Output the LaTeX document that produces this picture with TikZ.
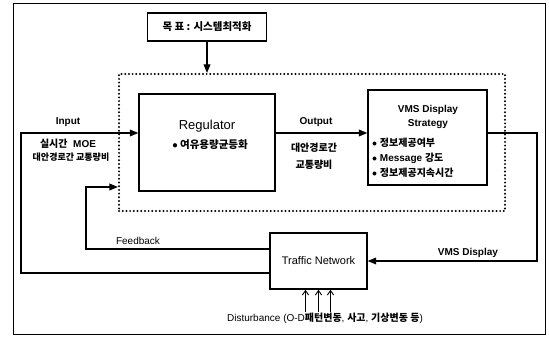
\documentclass[tikz,border=0pt]{standalone}
\usepackage{fontspec}
\setmainfont{Liberation Sans}
\newfontfamily\kr{Noto Sans CJK KR}
\usetikzlibrary{arrows.meta,positioning}
\tikzset{
  blkbox/.style={draw=black,line width=1.4pt,fill=white,inner sep=0pt},
  ctrlbox/.style={draw=black,line width=2.2pt,dash pattern=on 0pt off 3.7pt,line cap=round,inner sep=0pt},
  sigarrow/.style={-{Triangle[length=3mm,width=2.4mm]},line width=1.1pt},
  distarrow/.style={-{Straight Barb[length=1.6mm,width=2.2mm]},line width=0.9pt},
  lbl/.style={font=\fontsize{10}{12}\selectfont,inner sep=1pt,align=center}
}
\begin{document}
\begin{tikzpicture}[x=1pt,y=-1pt]
\useasboundingbox (0,0) rectangle (549,337);
\node[draw=black,line width=0.8pt,minimum width=532,minimum height=331,inner sep=0pt] (frame) at (279,168.5) {};
% boxes
\node[blkbox,minimum width=119,minimum height=28,font=\kr\bfseries\fontsize{10.5}{12}\selectfont] (goal) at (207,27) {목 표 : 시스템최적화};
\node[ctrlbox,minimum width=386,minimum height=137] (ctrl) at (312,142.5) {};
\node[blkbox,minimum width=136,minimum height=97] (reg) at (207,142.5) {};
\node[blkbox,minimum width=119,minimum height=95] (vms) at (427.5,137.5) {};
\node[blkbox,minimum width=97,minimum height=56,font=\fontsize{11}{13}\selectfont] (net) at (318.5,261) {Traffic Network};
% box texts
\node[font=\fontsize{13}{15}\selectfont] (regname) at (207,126) {Regulator};
\node[font=\kr\bfseries\fontsize{10.5}{13}\selectfont] (regitem) at (210,145) {$\bullet$\ 여유용량균등화};
\node[lbl,font=\bfseries\fontsize{10}{14}\selectfont] (vmsname) at (428,117) {VMS Display\\Strategy};
\node[lbl,anchor=west,font=\bfseries\fontsize{10}{12}\selectfont] (vms1) at (371,143) {$\bullet$\ {\kr 정보제공여부}};
\node[lbl,anchor=west,font=\bfseries\fontsize{10}{12}\selectfont] (vms2) at (371,158) {$\bullet$\ Message {\kr 강도}};
\node[lbl,anchor=west,font=\bfseries\fontsize{10}{12}\selectfont] (vms3) at (371,173) {$\bullet$\ {\kr 정보제공지속시간}};
% signal labels
\coordinate (inL) at (21,133);
\coordinate (fbL) at (86,187);
\coordinate (vR) at (537,133);
\node[lbl,font=\bfseries\fontsize{10}{12}\selectfont] (inlbl) at (68,122) {Input};
\node[lbl,font=\bfseries\fontsize{10}{12}\selectfont] (moe) at (68,144) {{\kr 실시간}\ \ MOE};
\node[lbl,font=\kr\bfseries\fontsize{9}{12}\selectfont] (ratio) at (71,157) {대안경로간 교통량비};
\node[lbl,font=\bfseries\fontsize{10}{12}\selectfont] (outlbl) at (316,122) {Output};
\node[lbl,font=\kr\bfseries\fontsize{10}{17}\selectfont] (outtxt) at (314,156) {대안경로간\\교통량비};
\node[lbl] (fblbl) at (138,241) {Feedback};
\node[lbl,font=\bfseries\fontsize{10}{12}\selectfont] (vmslbl) at (468,253) {VMS Display};
\node[lbl] (dist) at (325,318) {Disturbance (O-D{\kr\bfseries 패턴변동}, {\kr\bfseries 사고}, {\kr\bfseries 기상변동 등})};
% connectors
\draw[sigarrow] (goal.south) -- (goal.south |- ctrl.north);
\draw[sigarrow] ([yshift=-12pt]net.west) -| (inL) -- (reg.west |- inL);
\draw[sigarrow] (reg.east |- inL) -- (vms.west |- inL);
\draw[sigarrow] (vms.east |- vR) -- (vR) |- (net.east);
\draw[sigarrow] ([yshift=12pt]net.west) -| (fbL) -- (ctrl.west |- fbL);
\foreach \dx in {-13,0,12}
  \draw[distarrow] ([xshift=\dx pt]net.south |- dist.north) -- ([xshift=\dx pt]net.south);
\end{tikzpicture}
\end{document}
